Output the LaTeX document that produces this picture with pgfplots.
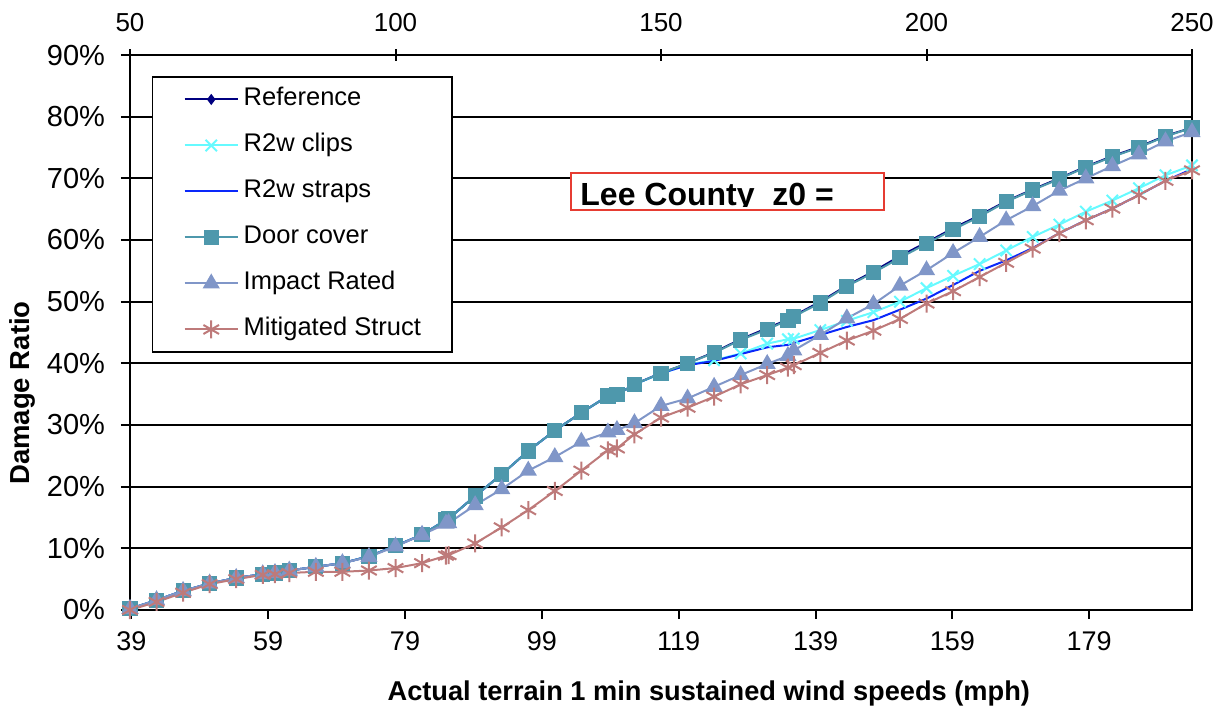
\documentclass[border=0pt]{standalone}
\usepackage{pgfplots}
\usepackage{pgfplotstable}
\pgfplotsset{compat=1.18}
\usepackage{fontspec}
\setmainfont{Liberation Sans}

\definecolor{refc}{RGB}{0,0,128}
\definecolor{clipc}{RGB}{102,250,255}
\definecolor{strapc}{RGB}{10,40,250}
\definecolor{doorc}{RGB}{78,152,172}
\definecolor{impc}{RGB}{128,150,200}
\definecolor{mitc}{RGB}{190,122,122}
\definecolor{boxred}{RGB}{230,60,50}

% x in upper-axis units (50..250), y in percent
\pgfplotstableread{
x     ref  clips straps door impact mitig
50    0.2  0.2   0.2    0.2  0.2    0.0
55    1.6  1.6   1.6    1.6  1.6    1.3
60    3.1  3.1   3.1    3.1  3.1    2.8
65    4.3  4.3   4.3    4.3  4.3    4.2
70    5.2  5.2   5.2    5.2  5.2    5.0
75    5.8  5.8   5.8    5.8  5.8    5.7
77.3  6.0  6.0   6.0    6.0  6.0    5.8
80    6.4  6.4   6.4    6.4  6.4    6.0
85    7.0  7.0   7.0    7.0  7.0    6.2
90    7.6  7.6   7.6    7.6  7.6    6.2
95    8.7  8.7   8.7    8.7  8.6    6.4
100   10.4 10.4  10.4   10.4 10.3   6.8
105   12.2 12.2  12.2   12.2 12.2   7.6
109.5 14.6 14.6  14.6   14.6 14.0   8.8
110   14.8 14.8  14.8   14.8 14.1   8.9
115   18.5 18.5  18.5   18.5 17.0   10.8
120   22.0 22.0  22.0   22.0 19.6   13.4
125   25.8 25.8  25.8   25.8 22.6   16.2
130   29.1 29.1  29.1   29.1 24.8   19.3
135   32.0 32.0  32.0   32.0 27.3   22.6
140   34.7 34.7  34.7   34.7 28.8   25.9
141.7 34.9 34.9  34.9   34.9 29.2   26.2
145   36.6 36.6  36.6   36.6 30.3   28.5
150   38.4 38.3  38.4   38.4 33.1   31.2
155   40.0 39.8  39.7   40.0 34.3   32.8
160   41.8 40.5  40.4   41.7 36.2   34.6
165   43.9 41.6  41.5   43.8 38.1   36.6
170   45.7 43.2  42.6   45.5 39.9   38.1
173.9 47.1 43.9  43.0   47.0 41.2   39.3
175   47.7 44.0  43.3   47.6 42.1   39.7
180   50.0 45.4  44.6   49.8 44.6   41.7
185   52.6 46.9  45.9   52.5 47.3   43.7
190   54.9 48.3  47.0   54.7 49.6   45.3
195   57.4 50.0  48.7   57.1 52.6   47.2
200   59.6 52.2  50.5   59.4 55.1   49.7
205   61.9 54.2  52.7   61.7 57.9   51.7
210   64.0 56.1  55.0   63.8 60.5   54.0
215   66.3 58.3  56.7   66.2 63.2   56.3
220   68.2 60.5  58.7   68.1 65.5   58.6
225   70.0 62.5  61.1   69.9 68.0   61.1
230   71.9 64.6  63.2   71.8 70.0   63.2
235   73.6 66.4  65.1   73.5 72.0   65.1
240   75.1 68.4  67.3   75.0 73.9   67.3
245   76.9 70.5  69.6   76.8 76.0   69.6
250   78.2 72.1  71.5   78.2 77.5   71.3
}\damage

\begin{document}
\begin{tikzpicture}
\begin{axis}[
  scale only axis,
  width=531pt, height=277.5pt,
  xmin=50, xmax=250, ymin=0, ymax=90,
  xtick={50.25,76.02,101.79,127.56,153.33,179.10,204.87,230.64},
  xticklabels={39,59,79,99,119,139,159,179},
  ytick={0,10,...,90},
  yticklabel={\pgfmathprintnumber{\tick}\%},
  /pgf/number format/assume math mode=true,
  xtick pos=bottom, ytick pos=left,
  tick align=outside, major tick length=4.5pt,
  tick style={black, line width=1pt},
  axis line style={line width=1pt},
  ymajorgrids, grid style={black, line width=1pt},
  xticklabel style={font=\fontsize{13.5}{15}\selectfont, yshift=-3pt},
  yticklabel style={font=\fontsize{14.5}{16}\selectfont, xshift=-4.5pt},
  xlabel={Actual terrain 1 min sustained wind speeds (mph)},
  xlabel style={font=\bfseries\fontsize{13.6}{16}\selectfont, at={(axis description cs:0.545,0)}, anchor=base, yshift=-45pt},
  ylabel={Damage Ratio},
  ylabel style={font=\bfseries\fontsize{13.75}{16}\selectfont, at={(axis description cs:-0.1008,0.391)}, anchor=center},
  legend cell align=left,
  legend image code/.code={\draw[mark repeat=2,mark phase=2] plot coordinates {(0pt,0pt) (13.25pt,0pt) (26.5pt,0pt)};},
  legend style={at={(rel axis cs:0.0207,0.969)}, anchor=north west, draw=black, line width=0.75pt, fill=white,
    inner xsep=15.5pt, inner ysep=5pt, row sep=10.5pt, column sep=2.5pt, yshift=-2pt,
    font=\fontsize{12.75}{15}\selectfont, nodes={inner sep=0pt, text height=9.5pt, text depth=3pt}},
]
\addplot[refc, line width=1pt, mark=diamond*, mark size=2pt] table[x=x, y=ref] {\damage};
\addplot[clipc, line width=1pt, mark=x, mark size=4pt, mark options={line width=1pt}] table[x=x, y=clips] {\damage};
\addplot[strapc, line width=1pt] table[x=x, y=straps] {\damage};
\addplot[doorc, line width=1pt, mark=square*, mark size=3.3pt] table[x=x, y=door] {\damage};
\addplot[impc, line width=1pt, mark=triangle*, mark size=4pt] table[x=x, y=impact] {\damage};
\addplot[mitc, line width=1pt, mark=asterisk, mark size=4.5pt, mark options={line width=1pt}] table[x=x, y=mitig] {\damage};
\legend{Reference, R2w clips, R2w straps, Door cover, Impact Rated, Mitigated Struct}
\coordinate (O) at (rel axis cs:0,0);
\end{axis}
\begin{axis}[
  scale only axis,
  width=531pt, height=277.5pt,
  xmin=50, xmax=250, ymin=0, ymax=90,
  axis x line*=top, hide y axis,
  xtick={50,100,...,250},
  tick align=center, major tick length=6pt,
  tick style={black, line width=1pt},
  axis line style={line width=1pt},
  xticklabel style={font=\fontsize{13}{15}\selectfont, yshift=5pt},
  /pgf/number format/assume math mode=true,
]
\addplot[draw=none] coordinates {(50,0) (250,0)};
\end{axis}
\begin{scope}[shift={(O)}]
  \fill[white] (220.5pt,200pt) rectangle (377pt,218.5pt);
  \begin{scope}
    \clip (220.5pt,201.7pt) rectangle (377pt,218.5pt);
    \node[anchor=base west, inner sep=0pt, font=\bfseries\fontsize{16}{19}\selectfont] at (225pt,202.2pt) {Lee County\ \ z0 =};
  \end{scope}
  \draw[boxred, line width=0.6pt] (220.5pt,200pt) rectangle (377pt,218.5pt);
\end{scope}
\pgfresetboundingbox
\path[shift={(O)}] (-65pt,-48pt) rectangle (545pt,305pt);
\end{tikzpicture}
\end{document}
